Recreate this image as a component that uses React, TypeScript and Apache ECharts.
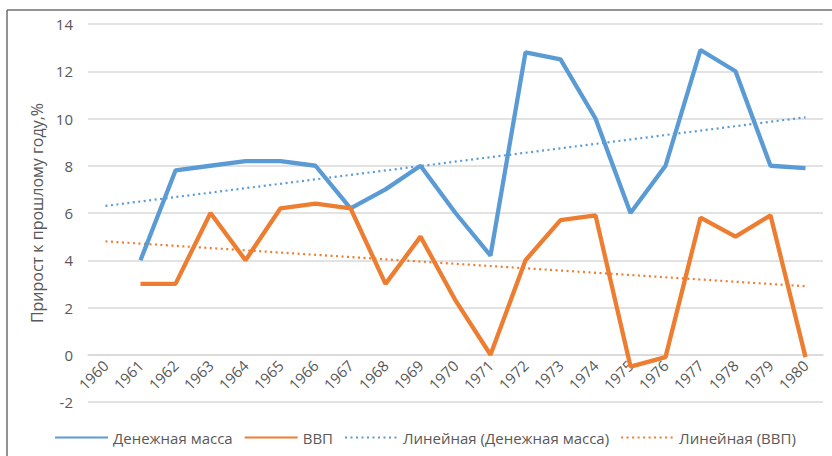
import React, { useEffect, useRef } from "react";
import * as echarts from "echarts";

const years = ["1960","1961","1962","1963","1964","1965","1966","1967","1968","1969","1970","1971","1972","1973","1974","1975","1976","1977","1978","1979","1980"];
const moneySupply = [null, 4.0, 7.8, 8.0, 8.2, 8.2, 8.0, 6.2, 7.0, 8.0, 6.0, 4.2, 12.8, 12.5, 10.0, 6.0, 8.0, 12.9, 12.0, 8.0, 7.9];
const gdp = [null, 3.0, 3.0, 6.0, 4.0, 6.2, 6.4, 6.2, 3.0, 5.0, 2.3, 0.0, 4.0, 5.7, 5.9, -0.5, -0.1, 5.8, 5.0, 5.9, -0.1];
// trend lines: start (1960) and end (1980) values, straight line between
const moneyTrendEnds = [6.3, 10.05];
const gdpTrendEnds = [4.8, 2.9];
const yTicks = { min: -2, max: 14, interval: 2 };

const seriesNames = ["Денежная масса", "ВВП", "Линейная (Денежная масса)", "Линейная (ВВП)"];
const yAxisName = "Прирост к прошлому году,%";

function trend(ends: number[]) {
  return years.map((_, i) => (i === 0 ? ends[0] : i === years.length - 1 ? ends[1] : null));
}

export default function App() {
  const ref = useRef<HTMLDivElement>(null);
  useEffect(() => {
    document.body.style.margin = "0";
    const chart = echarts.init(ref.current!, null, { renderer: "svg" });
    const blue = "#5B9BD5";
    const orange = "#ED7D31";
    const txt = "#595959";
    const font = "'Open Sans', 'Noto Sans', sans-serif";
    const gridTop = 24;
    const gridBottom = 54;
    const plotH = 456 - gridTop - gridBottom;
    // place the category axis on the value 0 line
    const zeroOffset = -(plotH * (0 - yTicks.min)) / (yTicks.max - yTicks.min);
    chart.setOption({
      animation: false,
      backgroundColor: "#ffffff",
      textStyle: { fontFamily: font },
      grid: { left: 88, right: 9, top: gridTop, bottom: gridBottom, containLabel: false },
      xAxis: {
        type: "category",
        data: years,
        boundaryGap: true,
        position: "bottom",
        offset: zeroOffset,
        axisLine: { show: true, onZero: false, lineStyle: { color: "#d9d9d9", width: 1.5 } },
        axisTick: { show: false },
        axisLabel: { rotate: 45, color: txt, fontSize: 15, margin: 8, interval: 0, fontFamily: font },
        splitLine: { show: false },
      },
      yAxis: {
        type: "value",
        min: yTicks.min,
        max: yTicks.max,
        interval: yTicks.interval,
        name: yAxisName,
        nameLocation: "middle",
        nameRotate: 90,
        nameGap: 42,
        nameTextStyle: { color: txt, fontSize: 16, fontFamily: font },
        axisLine: { show: false },
        axisTick: { show: false },
        axisLabel: { color: txt, fontSize: 15, margin: 15, fontFamily: font },
        splitLine: { lineStyle: { color: "#d9d9d9", width: 1.5 } },
      },
      legend: {
        bottom: 6,
        left: 49,
        itemWidth: 53,
        itemHeight: 10,
        itemGap: 11,
        textStyle: { color: txt, fontSize: 15, fontFamily: font },
        itemStyle: { opacity: 0 },
        data: seriesNames,
      },
      series: [
        { name: seriesNames[0], type: "line", data: moneySupply, symbol: "none", lineStyle: { color: blue, width: 4.3 }, itemStyle: { color: blue }, z: 3 },
        { name: seriesNames[1], type: "line", data: gdp, symbol: "none", lineStyle: { color: orange, width: 4.3 }, itemStyle: { color: orange }, z: 3 },
        { name: seriesNames[2], type: "line", data: trend(moneyTrendEnds), connectNulls: true, symbol: "none", lineStyle: { color: blue, width: 2.2, type: [2, 3.5] }, itemStyle: { color: blue }, z: 2 },
        { name: seriesNames[3], type: "line", data: trend(gdpTrendEnds), connectNulls: true, symbol: "none", lineStyle: { color: orange, width: 2.2, type: [2, 3.5] }, itemStyle: { color: orange }, z: 2 },
      ],
      graphic: [
        { type: "line", shape: { x1: 7, y1: 10, x2: 832, y2: 10 }, style: { stroke: "#6e6e6e", lineWidth: 1.5 } },
        { type: "line", shape: { x1: 7, y1: 10, x2: 7, y2: 456 }, style: { stroke: "#6e6e6e", lineWidth: 1.5 } },
      ],
    });
    return () => chart.dispose();
  }, []);
  return <div ref={ref} style={{ width: 832, height: 456 }} />;
}
